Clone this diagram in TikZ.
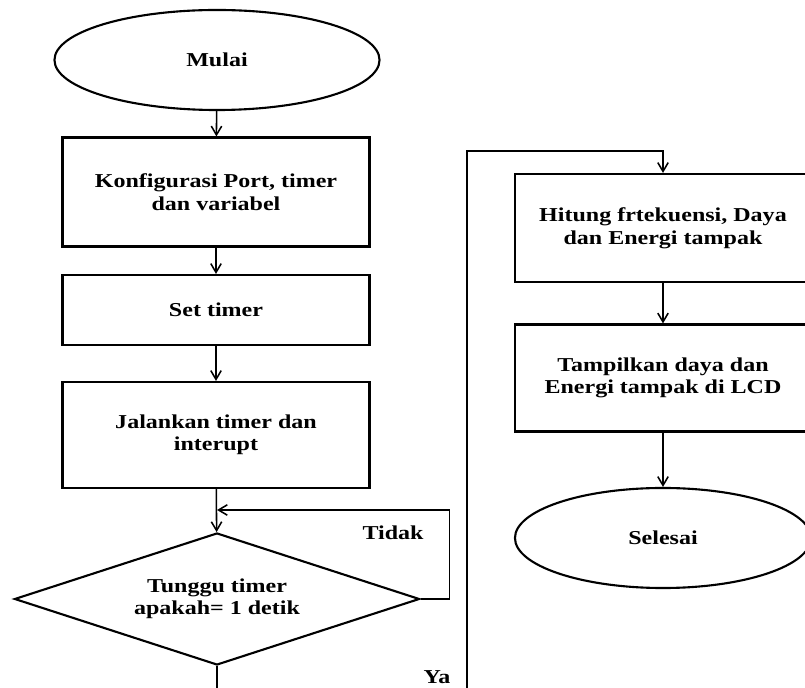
\documentclass[tikz,border=0pt]{standalone}
\usepackage{fontspec}
\setmainfont[FakeStretch=1.22]{Liberation Serif}
\usetikzlibrary{shapes.geometric,arrows.meta}

\begin{document}
\begin{tikzpicture}[x=0.025cm, y=-0.025cm,
	every node/.style={font=\fontsize{14}{16}\selectfont\bfseries, align=center},
	terminal/.style={ellipse, draw, line width=1.5pt},
	process/.style={rectangle, draw, line width=1.5pt, minimum width=7.675cm},
	decision/.style={diamond, draw, line width=1.5pt, aspect=3, inner sep=0pt},
	arrow/.style={line width=1.1pt, -{Straight Barb[length=2.2mm, width=2.6mm]}}]
	\useasboundingbox (0,0) rectangle (805,688);
	\clip (0,0) rectangle (805,688);
	% left column
	\node[terminal, minimum width=8.125cm, minimum height=2.5cm] (mulai) at (217,60) {Mulai};
	\node[process, minimum height=2.725cm] (konfig) at (216,192) {Konfigurasi Port, timer\\dan variabel};
	\node[process, minimum height=1.75cm] (settimer) at (216,310) {Set timer};
	\node[process, minimum height=2.65cm] (jalankan) at (216,435) {Jalankan timer dan\\interupt};
	\node[decision, minimum width=10.125cm, minimum height=3.3cm] (tunggu) at (217,599) {Tunggu timer\\apakah= 1 detik};
	% right column
	\node[process, minimum width=7.4cm, minimum height=2.7cm] (hitung) at (663,228) {Hitung frtekuensi, Daya\\dan Energi tampak};
	\node[process, minimum width=7.4cm, minimum height=2.675cm] (tampil) at (663,378) {Tampilkan daya dan\\Energi tampak di LCD};
	\node[terminal, minimum width=7.4cm, minimum height=2.5cm] (selesai) at (663,538) {Selesai};
	\coordinate (tidakin) at (217,510);
	\coordinate (yabottom) at (467,700);
	\coordinate (yatop) at (467,151);
	\draw[arrow] (mulai) -- (konfig);
	\draw[arrow] (konfig) -- (settimer);
	\draw[arrow] (settimer) -- (jalankan);
	\draw[arrow] (jalankan) -- (tunggu);
	\draw[arrow] (tunggu.east) -- ++(29,0) |- (tidakin);
	\draw[arrow] (tunggu.south) |- (yabottom) -- (yatop) -| (hitung.north);
	\draw[arrow] (hitung) -- (tampil);
	\draw[arrow] (tampil) -- (selesai);
	\node (tidak) at (393,533) {Tidak};
	\node (ya) at (437,677) {Ya};
\end{tikzpicture}
\end{document}
